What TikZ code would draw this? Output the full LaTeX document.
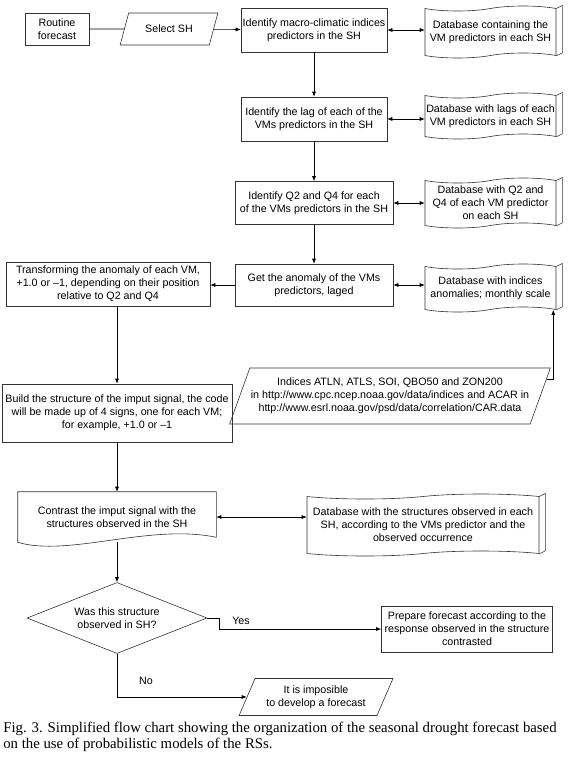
\documentclass[tikz,border=0pt]{standalone}
\usepackage{fontspec}
\setmainfont{Liberation Sans}
\newfontfamily\capfont{Liberation Serif}
\usetikzlibrary{shapes.geometric,shapes.symbols,arrows.meta,calc}

\tikzset{
  sz/.style 2 args={minimum width=#1pt, minimum height=#2pt},
  box/.style={draw=black!80, line width=0.6pt, align=center, inner sep=1pt},
  dbtape/.style={box, tape, tape bend height=5pt},
  inout/.style={box, trapezium, trapezium left angle=62, trapezium right angle=118, trapezium stretches=true},
  decision/.style={box, diamond, aspect=2.5, inner sep=0pt},
  arr/.style={-{Latex[length=5pt,width=4pt]}},
  dblarr/.style={{Latex[length=5pt,width=4pt]}-{Latex[length=5pt,width=4pt]}},
}

\begin{document}
\begin{tikzpicture}[x=1pt, y=1pt, font=\fontsize{10.7pt}{13pt}\selectfont, line width=0.6pt]
  \useasboundingbox (0,0) rectangle (573,-758);
  % top row
  \node[box, sz={64}{32}] (routine) at (57,-29) {Routine\\forecast};
  \node[inout, sz={98}{32}] (select) at (169,-29) {Select SH};
  \node[box, sz={146}{44}] (macro) at (314,-30) {Identify macro-climatic indices\\predictors in the SH};
  \node[dbtape, sz={131}{52}] (db1) at (490.5,-32) {Database containing the\\VM predictors in each SH};
  %
  \node[box, sz={146}{44}] (lag) at (314,-119) {Identify the lag of each of the\\VMs predictors in the SH};
  \node[dbtape, sz={131}{46}] (db2) at (490.5,-116) {Database with lags of each\\VM predictors in each SH};
  %
  \node[box, sz={158}{43}] (q2) at (314,-203) {Identify Q2 and Q4 for each\\of the VMs predictors in the SH};
  \node[dbtape, sz={131}{50}] (db3) at (490.5,-203) {Database with Q2 and\\Q4 of each VM predictor\\on each SH};
  %
  \node[box, sz={158}{42}] (anom) at (314,-285) {Get the anomaly of the VMs\\predictors, laged};
  \node[dbtape, sz={131}{48}] (db4) at (490.5,-288) {Database with indices\\anomalies; monthly scale};
  \node[box, sz={204}{44}] (trans) at (108,-284) {Transforming the anomaly of each VM,\\+1.0 or --1, depending on their position\\relative to Q2 and Q4};
  %
  \node[inout, sz={320}{56}] (indices) at (390,-396) {Indices ATLN, ATLS, SOI, QBO50 and ZON200\\in http://www.cpc.ncep.noaa.gov/data/indices and ACAR in\\http://www.esrl.noaa.gov/psd/data/correlation/CAR.data};
  \node[box, sz={230}{58}] (build) at (117,-413) {Build the structure of the imput signal, the code\\will be made up of 4 signs, one for each VM;\\for example, +1.0 or --1};
  %
  \node[align=center, inner sep=1pt, sz={198}{50}] (contrast) at (117,-517) {Contrast the imput signal with the\\structures observed in the SH};
  \draw[black!80] (contrast.north west) -- (contrast.north east) -- ([yshift=5pt]contrast.south east)
    .. controls +(-67,14) and +(51,-15) .. (contrast.south west) -- cycle;
  \node[dbtape, sz={232}{62}] (dbs) at (423,-525) {Database with the structures observed in each\\SH, according to the VMs predictor and the\\observed occurrence};
  %
  \node[decision, sz={180}{71}] (dec) at (117,-618) {Was this structure\\observed in SH?};
  \node[box, sz={171}{46}] (prepare) at (467,-629) {Prepare forecast according to the\\response observed in the structure\\contrasted};
  \node[inout, sz={154}{37}] (imposs) at (316,-697) {It is imposible\\to develop a forecast};
  \node (yes) at (241,-621) {Yes};
  \node (no) at (146,-681) {No};
  %
  \foreach \d in {db1,db2,db3,db4,dbs}
    \draw[black!80] (\d.north east) -- ++(6,3) -- ($(\d.south east)+(6,3)$) -- (\d.south east);
  %
  \draw (routine) -- (select);
  \draw[arr] (select) -- (macro);
  \draw[dblarr] (macro.east) -- (macro.east -| db1.west);
  \draw[arr] (macro) -- (lag);
  \draw[dblarr] (lag.east) -- (lag.east -| db2.west);
  \draw[arr] (lag) -- (q2);
  \draw[dblarr] (q2.east) -- (q2.east -| db3.west);
  \draw[arr] (q2) -- (anom);
  \draw[dblarr] (anom.east) -- (anom.east -| db4.west);
  \draw[arr] (anom.west) -- (anom.west -| trans.east);
  \draw[arr] (build.north |- trans.south) -- (build.north);
  \coordinate (ix) at ($(indices.top right corner)!0.21!(indices.bottom right corner)$);
  \draw[arr] (ix) -| ([xshift=-3pt]db4.south east);
  \draw[arr] (build) -- (contrast);
  \draw[dblarr] (contrast.east) -- (contrast.east -| dbs.west);
  \draw[arr] (contrast.south) -- (dec.north);
  \draw[arr] (dec.east) -- ++(12,0) |- (prepare.west);
  \draw[arr] (dec.south) |- (imposs.west);
  %
  \node[anchor=north west, align=left, inner sep=0pt, font=\capfont\fontsize{14.8pt}{15.5pt}\selectfont] (caption) at (3,-722)
    {Fig. 3. Simplified flow chart showing the organization of the seasonal drought forecast based\\on the use of probabilistic models of the RSs.};
\end{tikzpicture}
\end{document}
